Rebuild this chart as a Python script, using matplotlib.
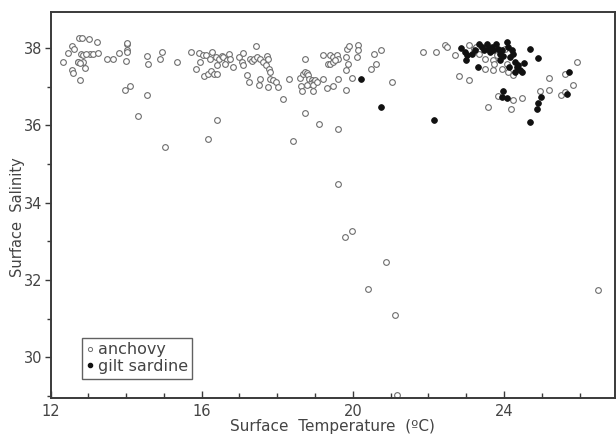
import matplotlib
matplotlib.use("Agg")
import matplotlib.pyplot as plt
from matplotlib.ticker import MultipleLocator, FixedLocator
from matplotlib.lines import Line2D

# Anchovy: (temperature, salinity)
anchovy_t = [12.34, 12.47, 12.58, 12.61, 12.76, 12.83, 13.02, 13.22, 12.80, 12.87,
             13.04, 13.13, 13.25, 12.72, 12.87, 12.91, 12.58, 12.59, 12.78, 13.50,
             13.66, 13.81, 14.02, 14.02, 14.03, 13.99, 13.97, 14.09, 14.56, 14.59,
             14.56, 14.32, 15.03, 14.96, 14.90, 15.34, 15.72, 15.94, 16.04, 16.11,
             16.26, 16.22, 15.96, 15.84, 16.06, 16.17, 16.24, 16.33, 16.41, 16.37,
             16.46, 16.53, 16.57, 16.66, 16.72, 16.75, 16.41, 16.63, 16.84, 17.00,
             17.07, 17.08, 17.10, 17.28, 17.32, 17.38, 17.47, 17.54, 17.63, 17.72,
             17.76, 17.70, 17.79, 17.81, 17.45, 17.19, 17.26, 17.54, 17.52, 17.76,
             17.81, 17.89, 17.97, 18.03, 18.16, 18.32, 18.73, 18.60, 18.69, 18.73,
             18.78, 18.82, 18.85, 18.91, 18.95, 19.00, 18.87, 18.95, 18.78, 18.62,
             18.65, 18.94, 19.04, 18.73, 19.11, 19.22, 19.20, 19.35, 19.31, 18.42,
             16.41, 16.17, 19.39, 19.48, 19.57, 19.61, 19.39, 19.48, 19.53, 19.85,
             19.91, 20.14, 20.13, 19.82, 19.88, 19.82, 20.12, 20.56, 20.74, 20.61,
             20.47, 19.60, 19.97, 19.47, 19.82, 21.03, 19.61, 19.61, 21.86, 22.20,
             22.44, 22.48, 22.70, 22.82, 23.07, 23.57, 24.18, 24.24, 24.48, 23.83,
             24.95, 25.20, 25.20, 25.50, 25.61, 25.61, 25.82, 25.94, 23.08, 23.20,
             23.27, 23.34, 23.49, 23.70, 23.73, 23.49, 23.71, 23.94, 24.11, 24.24,
             24.07, 23.82, 24.02, 19.79, 19.99, 20.89, 20.41, 21.12, 21.16, 26.49,
             12.95, 12.72, 12.78, 14.02]
anchovy_s = [37.64, 37.88, 38.06, 37.99, 38.25, 38.25, 38.23, 38.16, 37.86, 37.82,
             37.86, 37.86, 37.88, 37.64, 37.64, 37.49, 37.43, 37.36, 37.17, 37.72,
             37.72, 37.88, 38.12, 37.95, 37.90, 37.66, 36.93, 37.01, 37.79, 37.60,
             36.80, 36.25, 35.44, 37.90, 37.72, 37.64, 37.90, 37.88, 37.82, 37.82,
             37.89, 37.71, 37.64, 37.45, 37.27, 37.34, 37.41, 37.34, 37.32, 37.76,
             37.73, 37.79, 37.76, 37.69, 37.86, 37.72, 37.56, 37.60, 37.50, 37.76,
             37.64, 37.56, 37.88, 37.71, 37.67, 37.72, 37.76, 37.73, 37.64, 37.79,
             37.73, 37.56, 37.47, 37.38, 38.05, 37.30, 37.12, 37.21, 37.06, 37.00,
             37.19, 37.17, 37.12, 37.00, 36.69, 37.21, 37.71, 37.24, 37.32, 37.38,
             37.36, 37.30, 37.21, 37.17, 37.12, 37.17, 37.08, 37.04, 37.04, 37.01,
             36.89, 36.89, 37.12, 36.32, 36.04, 37.21, 37.82, 37.60, 36.98, 35.59,
             36.13, 35.65, 37.82, 37.78, 37.82, 37.73, 37.60, 37.64, 37.69, 37.99,
             38.05, 38.08, 37.95, 37.76, 37.60, 37.43, 37.76, 37.86, 37.95, 37.58,
             37.45, 37.21, 37.23, 37.01, 36.93, 37.12, 35.91, 34.49, 37.90, 37.90,
             38.08, 38.03, 37.82, 37.27, 37.17, 36.48, 36.43, 36.65, 36.71, 36.75,
             36.89, 36.93, 37.24, 36.78, 36.87, 37.34, 37.04, 37.64, 38.08, 37.97,
             38.03, 37.84, 37.73, 37.69, 37.60, 37.47, 37.43, 37.47, 37.38, 37.30,
             37.60, 37.82, 37.99, 33.12, 33.27, 32.48, 31.76, 31.11, 29.03, 31.74,
             37.85, 37.65, 37.61, 38.13]

# Gilt sardine: (temperature, salinity)
sardine_t = [20.21, 20.74, 22.15, 22.85, 22.97, 23.01, 22.99, 23.14, 23.23, 23.34,
             23.41, 23.47, 23.54, 23.58, 23.63, 23.67, 23.71, 23.80, 23.85, 23.89,
             23.94, 23.89, 23.96, 24.07, 24.11, 24.16, 24.20, 24.24, 24.14, 24.29,
             24.33, 24.38, 24.42, 24.47, 24.29, 24.53, 23.32, 24.70, 24.90, 23.98,
             24.07, 23.94, 24.99, 24.90, 24.86, 24.70, 25.73, 25.67]
sardine_s = [37.19, 36.49, 36.13, 38.01, 37.90, 37.82, 37.69, 37.86, 37.95, 38.12,
             38.03, 37.95, 38.12, 37.99, 37.90, 38.03, 37.95, 38.12, 37.99, 37.86,
             37.95, 37.69, 37.79, 38.16, 38.03, 37.77, 37.95, 37.86, 37.51, 37.64,
             37.51, 37.56, 37.43, 37.38, 37.38, 37.62, 37.51, 37.97, 37.75, 36.89,
             36.71, 36.74, 36.74, 36.59, 36.42, 36.08, 37.38, 36.82]

x_major = [12, 16, 20, 24]
y_major = [30, 32, 34, 36, 38]
series_names = ["anchovy", "gilt sardine"]

ink = "#3a3a3a"
plt.rcParams['font.family'] = ['DejaVu Sans']

fig = plt.figure(figsize=(6.16, 4.36), dpi=100)
ax = fig.add_axes([0.082, 0.087, 0.916, 0.885])

ax.scatter(anchovy_t, anchovy_s, s=17, facecolors="white", edgecolors="#6e6e6e",
           linewidths=0.8, zorder=2)
ax.scatter(sardine_t, sardine_s, s=17, facecolors="#111111", edgecolors="#111111",
           linewidths=0.6, zorder=3)

ax.set_xlim(12, 26.93)
ax.set_ylim(28.95, 38.93)

ax.xaxis.set_major_locator(FixedLocator(x_major))
ax.xaxis.set_minor_locator(MultipleLocator(1))
ax.yaxis.set_major_locator(FixedLocator(y_major))
ax.yaxis.set_minor_locator(MultipleLocator(1))

ax.tick_params(axis="x", which="major", direction="in", length=5, width=1,
               colors=ink, labelsize=10.5, pad=4)
ax.tick_params(axis="x", which="minor", direction="in", length=3.5, width=1,
               colors=ink)
ax.tick_params(axis="y", which="major", direction="out", length=4, width=1,
               colors=ink, labelsize=10.5, pad=2)
ax.tick_params(axis="y", which="minor", direction="out", length=3, width=1,
               colors=ink)
for lab in ax.get_xticklabels() + ax.get_yticklabels():
    lab.set_color("#444444")

for sp in ax.spines.values():
    sp.set_color(ink)
    sp.set_linewidth(1.4)

ax.set_xlabel("Surface  Temperature  (ºC)", fontsize=11, color="#444444",
              labelpad=0)
ax.set_ylabel("Surface  Salinity", fontsize=10.5, color="#444444")
ax.yaxis.set_label_coords(-0.045, 0.47)

handles = [
    Line2D([], [], linestyle="none", marker="o", markersize=3,
           markerfacecolor="white", markeredgecolor="#6e6e6e", markeredgewidth=0.7),
    Line2D([], [], linestyle="none", marker="o", markersize=3,
           markerfacecolor="#111111", markeredgecolor="#111111"),
]
leg = ax.legend(handles, series_names, loc="lower left",
                bbox_to_anchor=(0.055, 0.05), fontsize=11.5, frameon=True,
                fancybox=False, handlelength=0.4, handletextpad=0.3,
                borderpad=0.3, labelspacing=0.1, borderaxespad=0)
leg.get_frame().set_edgecolor(ink)
leg.get_frame().set_linewidth(1.0)
for t in leg.get_texts():
    t.set_color("#444444")

fig.savefig("out.png", dpi=100)
